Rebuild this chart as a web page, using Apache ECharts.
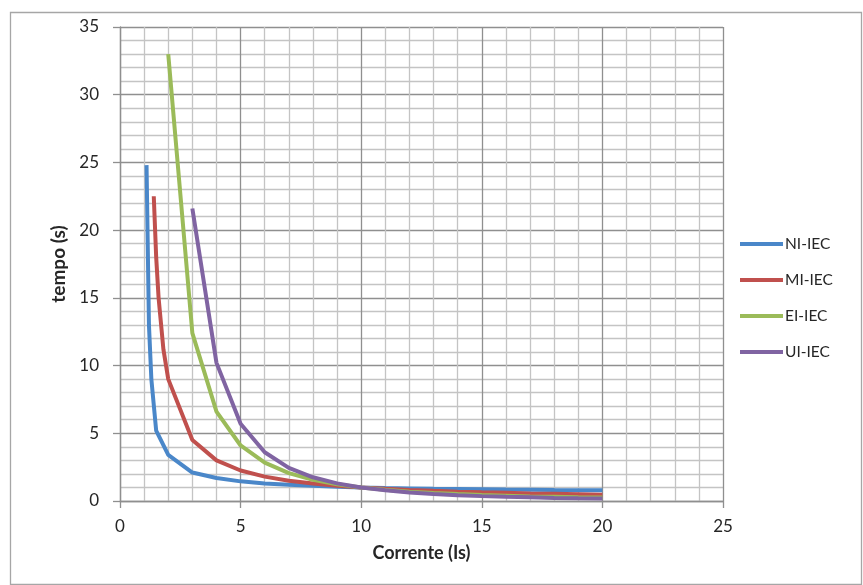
<!DOCTYPE html>
<html>
<head>
<meta charset="utf-8">
<script src="https://cdn.jsdelivr.net/npm/echarts@6/dist/echarts.min.js"></script>
<style>html,body{margin:0;padding:0;background:#fff}#c{width:863px;height:585px}</style>
</head>
<body>
<div id="c"></div>
<script>
// Data
const seriesNames = ['NI-IEC', 'MI-IEC', 'EI-IEC', 'UI-IEC'];
const xNI = [1.1, 1.2, 1.3, 1.5, 2, 3, 4, 5, 6, 7, 8, 9, 10, 11, 12, 13, 14, 15, 16, 17, 18, 19, 20];
const yNI = [24.8, 13, 9, 5.2, 3.4, 2.1, 1.7, 1.45, 1.3, 1.2, 1.12, 1.05, 1.0, 0.96, 0.93, 0.9, 0.88, 0.86, 0.84, 0.83, 0.81, 0.8, 0.79];
const xMI = [1.4, 1.5, 1.6, 1.8, 2, 3, 4, 5, 6, 7, 8, 9, 10, 11, 12, 13, 14, 15, 16, 17, 18, 19, 20];
const yMI = [22.5, 18, 15, 11.2, 9, 4.5, 3, 2.25, 1.8, 1.5, 1.29, 1.13, 1.0, 0.9, 0.82, 0.75, 0.69, 0.64, 0.6, 0.56, 0.53, 0.5, 0.47];
const xEI = [2, 3, 4, 5, 6, 7, 8, 9, 10, 11, 12, 13, 14, 15, 16, 17, 18, 19, 20];
const yEI = [33, 12.4, 6.6, 4.1, 2.83, 2.06, 1.57, 1.24, 1.0, 0.83, 0.69, 0.59, 0.51, 0.44, 0.39, 0.34, 0.31, 0.27, 0.25];
const xUI = [3, 4, 5, 6, 7, 8, 9, 10, 11, 12, 13, 14, 15, 16, 17, 18, 19, 20];
const yUI = [21.6, 10.2, 5.7, 3.6, 2.45, 1.75, 1.3, 1.0, 0.79, 0.63, 0.52, 0.43, 0.36, 0.31, 0.27, 0.23, 0.2, 0.18];
const xTicks = [0, 25, 5];   // min, max, interval
const yTicks = [0, 35, 5];

const colors = ['#4a87c9', '#c0504d', '#9bbb59', '#8064a2'];
const xs = [xNI, xMI, xEI, xUI];
const ys = [yNI, yMI, yEI, yUI];

const chart = echarts.init(document.getElementById('c'), null, {renderer: 'canvas'});
const font = 'Lato, "Open Sans", sans-serif';
const majorLine = {show: true, lineStyle: {color: '#8f8f8f', width: 1.3}};
const minorLine = {show: true, lineStyle: {color: '#c4c4c4', width: 1.3}};

chart.setOption({
  backgroundColor: '#fff',
  animation: false,
  textStyle: {fontFamily: font},
  graphic: [{
    type: 'rect', left: 8, top: 10, shape: {width: 851, height: 572},
    style: {fill: 'none', stroke: '#a6a6a6', lineWidth: 1.3}, silent: true
  }],
  grid: {left: 120, right: 140, top: 27, bottom: 84, containLabel: false},
  legend: {
    orient: 'vertical', left: 740, top: 236, padding: 0,
    itemWidth: 43, itemHeight: 4, itemGap: 20,
    icon: 'rect',
    textStyle: {fontSize: 15.5, color: '#262626', fontFamily: font, padding: [0, 0, 0, -3]},
    data: seriesNames
  },
  xAxis: {
    type: 'value', min: xTicks[0], max: xTicks[1], interval: xTicks[2],
    name: 'Corrente (Is)', nameLocation: 'middle', nameGap: 43,
    nameTextStyle: {fontSize: 18, fontWeight: 'bold', color: '#262626', fontFamily: font},
    axisLine: {show: true, onZero: false, lineStyle: {color: '#8f8f8f', width: 1.3}},
    axisTick: {show: true, length: 7, lineStyle: {color: '#8f8f8f', width: 1.3}},
    axisLabel: {fontSize: 17, color: '#262626', margin: 17, fontFamily: font},
    splitLine: majorLine,
    minorTick: {show: false, splitNumber: 5},
    minorSplitLine: minorLine
  },
  yAxis: {
    type: 'value', min: yTicks[0], max: yTicks[1], interval: yTicks[2],
    name: 'tempo (s)', nameLocation: 'middle', nameGap: 42, nameRotate: 90,
    nameTextStyle: {fontSize: 19, fontWeight: 'bold', color: '#262626', fontFamily: font},
    axisLine: {show: true, onZero: false, lineStyle: {color: '#8f8f8f', width: 1.3}},
    axisTick: {show: true, length: 7, lineStyle: {color: '#8f8f8f', width: 1.3}},
    axisLabel: {fontSize: 17, color: '#262626', margin: 21, fontFamily: font},
    splitLine: majorLine,
    minorTick: {show: false, splitNumber: 5},
    minorSplitLine: minorLine
  },
  series: seriesNames.map((n, k) => ({
    name: n, type: 'line', showSymbol: false, symbol: 'none',
    lineStyle: {width: 4, color: colors[k]}, itemStyle: {color: colors[k]},
    data: xs[k].map((x, i) => [x, ys[k][i]])
  }))
});
</script>
</body>
</html>
